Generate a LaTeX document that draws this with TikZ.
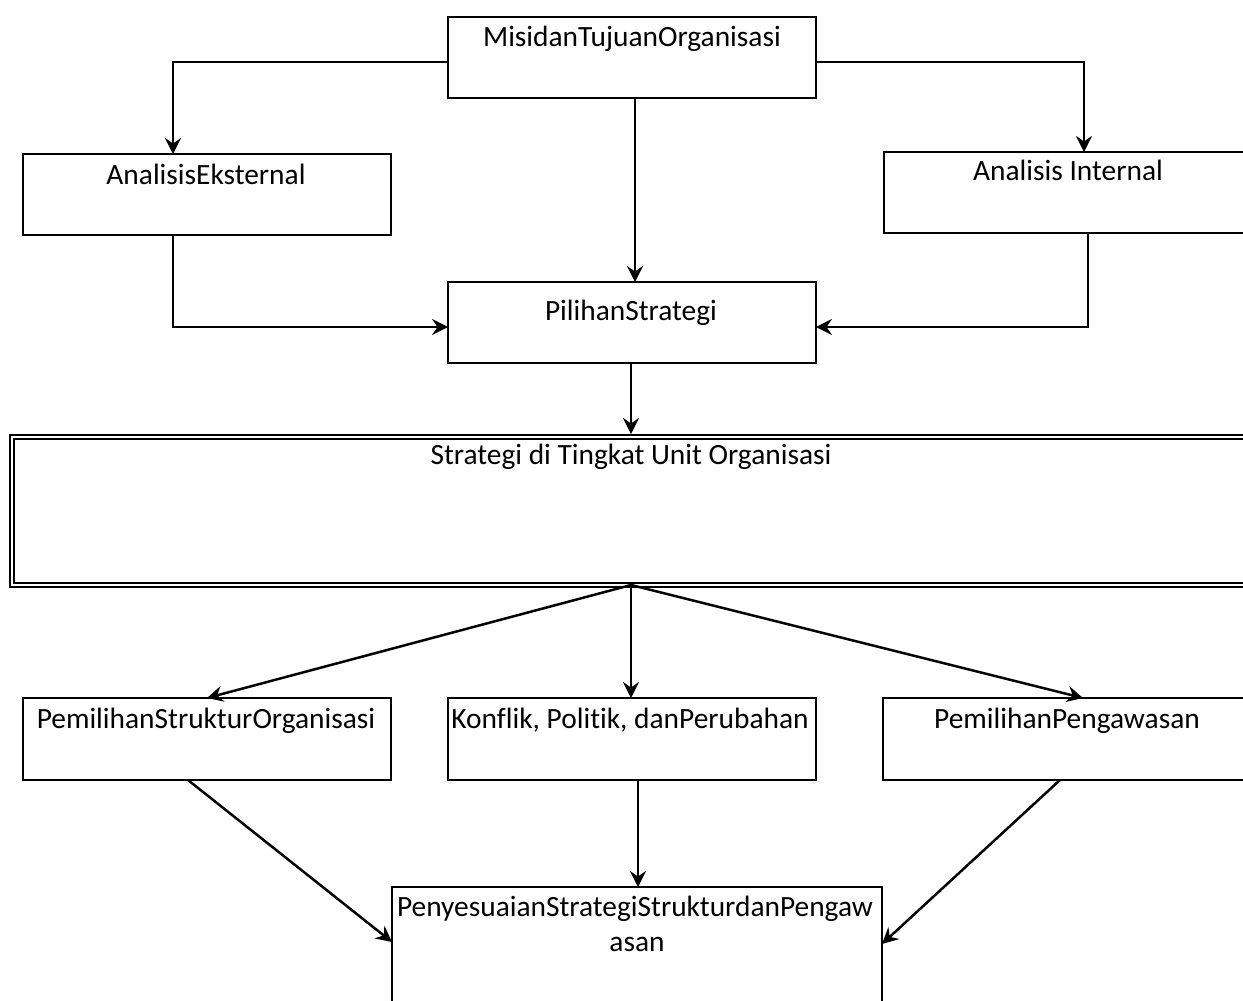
\documentclass[tikz,border=0pt]{standalone}
\usepackage{fontspec}
\setmainfont{Carlito}[Ligatures=NoCommon]
\usetikzlibrary{arrows.meta}
\begin{document}
\begin{tikzpicture}[x=1pt,y=-1pt,
  box/.style={draw=black, line width=2.4pt, rectangle, inner sep=0pt, outer sep=0pt},
  dbox/.style={draw=black, line width=2.2pt, double=white, double distance=1.8pt, rectangle, inner sep=0pt, outer sep=0pt},
  lbl/.style={anchor=base, inner sep=0pt, font=\fontsize{29.4}{35}\selectfont},
  arr/.style={line width=2.5pt, -{Stealth[length=16pt,width=16pt,inset=5.5pt]}}]
\useasboundingbox (0,0) rectangle (1243,1001);
\clip (0,0) rectangle (1243,1001);
\fill[white] (0,0) rectangle (1243,1001);

% boxes
\node[box, minimum width=368pt, minimum height=81pt] (misi) at (632,57.5) {};
\node[box, minimum width=368pt, minimum height=81pt] (eks) at (207,194.5) {};
\node[box, minimum width=369pt, minimum height=81pt] (int) at (1068.5,192.5) {};
\node[box, minimum width=368pt, minimum height=81pt] (pil) at (632,322.5) {};
\node[dbox, minimum width=1240pt, minimum height=148pt] (str) at (632,511) {};
\node[box, minimum width=368pt, minimum height=82pt] (stru) at (207,739) {};
\node[box, minimum width=368pt, minimum height=82pt] (kon) at (632,739) {};
\node[box, minimum width=370pt, minimum height=82pt] (peng) at (1068,739) {};
\node[box, minimum width=490pt, minimum height=152pt] (pen) at (637,963) {};

% labels
\node[lbl] (misit) at (632,46.5) {MisidanTujuanOrganisasi};
\node[lbl] (ekst) at (206,184.5) {AnalisisEksternal};
\node[lbl] (intt) at (1068,180.5) {Analisis Internal};
\node[lbl] (pilt) at (631,320.5) {PilihanStrategi};
\node[lbl] (strt) at (631,464.5) {Strategi di Tingkat Unit Organisasi};
\node[lbl] (strut) at (206,728.5) {PemilihanStrukturOrganisasi};
\node[lbl] (kont) at (630,728.5) {Konflik, Politik, danPerubahan};
\node[lbl] (pengt) at (1067,728.5) {PemilihanPengawasan};
\node[lbl] (pent1) at (635,916.5) {PenyesuaianStrategiStrukturdanPengaw};
\node[lbl] (pent2) at (637,951.5) {asan};

% connectors
\draw[arr] (misi.west |- 0,62) -| (173,0 |- eks.north);
\draw[arr] (misi.east |- 0,62) -| (1084,0 |- int.north);
\draw[arr] (635,0 |- misi.south) -- (635,0 |- pil.north);
\draw[arr] (173,0 |- eks.south) |- (pil.west |- 0,327);
\draw[arr] (1088,0 |- int.south) |- (pil.east |- 0,327);
\draw[arr] (631,0 |- pil.south) -- (631,434);
\coordinate (hub) at (631,585);
\draw[arr] (hub) -- (207,0 |- stru.north);
\draw[arr] (hub) -- (631,0 |- kon.north);
\draw[arr] (hub) -- (1083,0 |- peng.north);
\draw[arr] (188,0 |- stru.south) -- (pen.west |- 0,942);
\draw[arr] (638,0 |- kon.south) -- (638,0 |- pen.north);
\draw[arr] (1060,0 |- peng.south) -- (pen.east |- 0,944);
\end{tikzpicture}
\end{document}
